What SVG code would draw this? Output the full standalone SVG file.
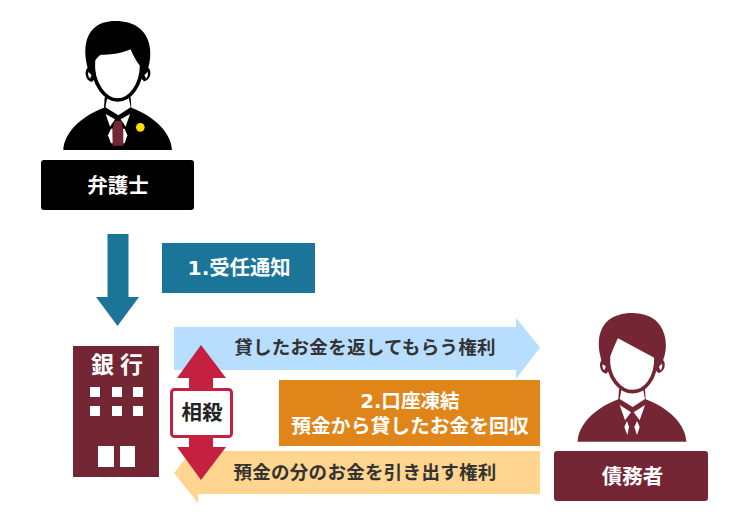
<svg xmlns="http://www.w3.org/2000/svg" width="750" height="524" viewBox="0 0 750 524">
<style>
text{font-family:"DejaVu Sans","Noto Sans CJK JP",sans-serif;font-weight:700;text-anchor:middle}
.w{fill:#fff}.d{fill:#333}
.blk{fill:#000;color:#000}.mar{fill:#752635;color:#752635}.wh{fill:#fff}
.face{fill:#fff;stroke:currentColor;stroke-width:11;stroke-linejoin:round}
.lbl{font-size:18.500px;letter-spacing:.3px}
.sub{font-size:19.800px}
</style>
<defs>
<g id="body-shape">
<path d="M100 420C102 370 150 320 222 293L224 262L302 262L304 293C376 320 424 370 426 420Z"/>
<path class="wh" d="M232 262L296 262L302 292L265 316L226 292Z"/>
<path d="M178 172C162 174 162 212 186 216L200 200L190 172Z"/>
<path d="M350 172C366 174 366 210 342 214L328 200L338 172Z"/>
<path class="wh" d="M177 184C172 190 174 200 180 206L184 196Z"/>
<path class="wh" d="M351 184C356 190 354 200 348 206L344 196Z"/>
</g>
</defs>
<g id="connectors">
<path id="arrow-notice" fill="#1b7599" d="M107.500 234H128.500V297H139L117.500 326L96 297H107.500Z"/>
<path id="arrow-claim" fill="#b8deff" d="M174 327H516V318L540 347.500L516 379V370H174Z"/>
<path id="arrow-deposit" fill="#ffd58f" d="M540 451H198V443L174 473L198 503V494H540Z"/>
<path id="arrow-offset" fill="#c52040" d="M201 345L226 378H213V447H226L201 480L177 447H189V378H177Z"/>
</g>
<g id="lawyer">
<g class="blk" transform="translate(30 10) scale(.33333)">
<use href="#body-shape"/>
<path d="M178 190C158 130 162 74 200 48C232 26 296 30 324 52C360 76 372 130 350 190Z"/>
<path class="face" d="M190 152C185 225 228 270 263 270C300 270 335 225 335 165C322 150 312 128 304 110C280 124 240 130 212 128C202 134 194 142 190 152Z"/>
<path class="wh" d="M227 312L255 328L240 350Z"/>
<path class="wh" d="M300 312L272 328L287 350Z"/>
<path class="wh" d="M243 356L234 376L243 400L284 400L292 376L284 356Z"/>
<path fill="#752635" d="M254 332H274L280 360L280 407H248L247 360Z"/>
<circle cx="331" cy="352" r="13" fill="#ffdc00"/>
</g>
<rect x="41" y="160" width="153" height="50" rx="3" fill="#000"/>
<text class="w" x="118" y="193" font-size="20.500">弁護士</text>
</g>
<g id="notice">
<rect x="162" y="243" width="153" height="50" fill="#1b7599"/>
<text class="w" x="239" y="275" font-size="20.300">1.受任通知</text>
</g>
<g id="bank">
<rect x="73" y="346" width="86" height="131" fill="#752635"/>
<text class="w" x="120" y="373" font-size="23" letter-spacing="6">銀行</text>
<path class="wh" d="M90 387h10v10h-10zM112 387h10v10h-10zM133 387h10v10h-10zM90 406h10v10h-10zM112 406h10v10h-10zM133 406h10v10h-10zM98 446h16v21h-16zM120 446h15v21h-15z"/>
</g>
<g id="offset">
<rect x="171.500" y="389.500" width="60" height="47" rx="3" fill="#fff" stroke="#c52040" stroke-width="3"/>
<text x="202" y="420" font-size="20.500" fill="#222">相殺</text>
</g>
<text class="d lbl" x="365" y="354">貸したお金を返してもらう権利</text>
<g id="collect">
<rect x="279" y="380" width="261" height="66" fill="#e0851a"/>
<text class="w" x="410" y="408" font-size="19.600">2.口座凍結</text>
<text class="w sub" x="410" y="433">預金から貸したお金を回収</text>
</g>
<text class="d lbl" x="365" y="479">預金の分のお金を引き出す権利</text>
<g id="debtor">
<g class="mar" transform="translate(545 305) scale(.33333)">
<use href="#body-shape" y="-10" x="-2"/>
<path d="M174 180C152 120 160 72 190 46C226 14 316 14 346 62C368 98 368 140 348 180Z"/>
<path class="face" d="M190 155C186 220 228 260 263 260C300 260 335 220 333 155L216 92C206 115 196 135 190 155Z"/>
<path class="wh" d="M224 300L258 322L240 346Z"/>
<path class="wh" d="M300 300L266 322L284 346Z"/>
<path class="wh" d="M246 348L238 366L247 390L252 366Z"/>
<path class="wh" d="M276 348L268 366L276 390L284 366Z"/>
</g>
<rect x="554" y="451" width="154" height="50" rx="3" fill="#752635"/>
<text class="w" x="632.500" y="484" font-size="20.500">債務者</text>
</g>
</svg>
